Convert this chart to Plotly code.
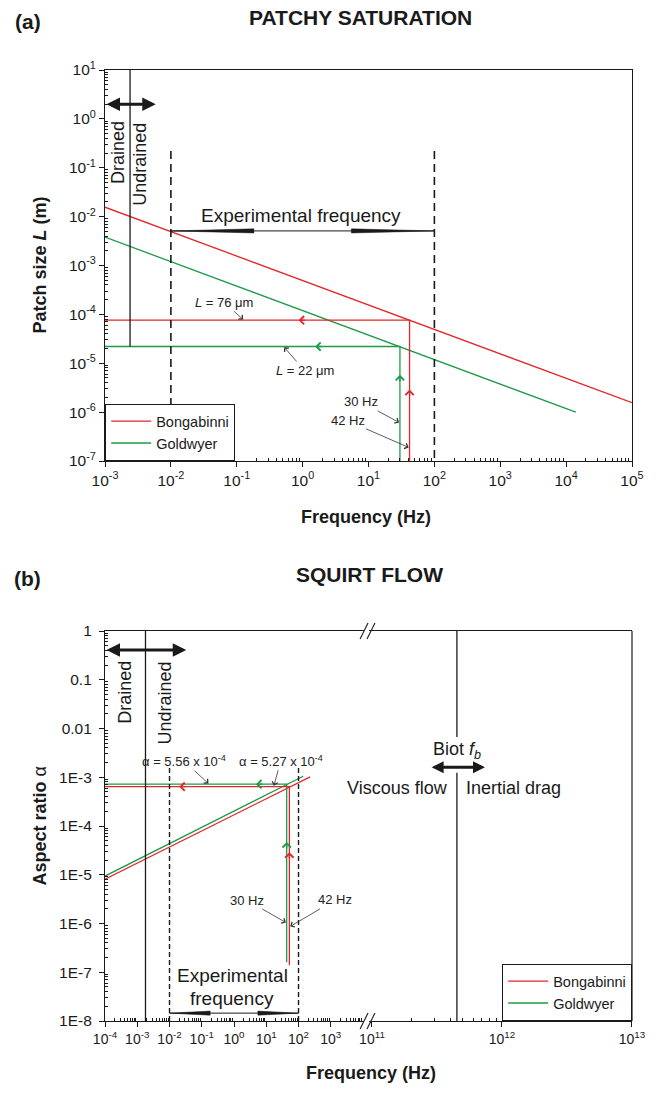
import math
import plotly.graph_objects as go

# ---------------- Panel (a): patchy saturation ----------------
a_bong_freq = [1e-3, 1e5]          # Bongabinni L-f line
a_bong_L = [1.56e-2, 1.56e-6]
a_gold_freq = [1e-3, 1.4e4]        # Goldwyer L-f line
a_gold_L = [3.8e-3, 1.0e-6]
a_meas_freq = [42, 30]             # Bongabinni, Goldwyer measured frequency
a_patch_L = [76e-6, 22e-6]         # resulting patch size
a_fmin, a_Lmin, a_Lmax = 1e-3, 1e-7, 10
a_drain_freq = 2.4e-3
a_exp_freq = [1e-2, 1e2]
a_exp_top_L = 0.22
a_exp_arrow_L = 5.1e-3
a_drain_arrow_freq = [1e-3, 5.9e-3]
a_drain_arrow_L = 2.0
a_chev_left_freq = [0.87, 1.55]     # "<" markers (Bong, Gold)
a_chev_up_L = [2.9e-6, 5.8e-6]     # "^" markers (Bong, Gold)

# ---------------- Panel (b): squirt flow ----------------
b_bong_freq = [1e-4, 2.3e2]
b_bong_alpha = [8.1e-6, 1.02e-3]
b_gold_freq = [1e-4, 1.4e2]
b_gold_alpha = [9.4e-6, 1.05e-3]
b_meas_freq = [52, 43]             # Bongabinni, Goldwyer
b_meas_alpha = [6.4e-4, 7.2e-4]
b_vert_bottom = [1.4e-7, 1.6e-7]
b_fmin = 1e-4
b_alpha_min, b_alpha_max = 1e-8, 1
b_drain_freq = 1.8e-3
b_exp_freq = [1e-2, 1e2]
b_exp_top_alpha = 1.55e-3
b_exp_arrow_alpha = 1.45e-8
b_drain_arrow_freq = [1e-4, 3.3e-2]
b_drain_arrow_alpha = 0.41
b_biot_freq = 4.5e11
b_biot_gap = [1.23e-3, 6.7e-3]
b_biot_arrow_freq = [2.8e11, 7.4e11]
b_biot_arrow_alpha = 1.6e-3
b_chev_left_freq = [0.02, 4.8]
b_chev_up_alpha = [2.9e-5, 4.7e-5]

# tick labels
a_x_exps = [-3, -2, -1, 0, 1, 2, 3, 4, 5]
a_y_exps = [-7, -6, -5, -4, -3, -2, -1, 0, 1]
b_xl_exps = [-4, -3, -2, -1, 0, 1, 2, 3]
b_xr_exps = [11, 12, 13]
b_y_vals = [1e-8, 1e-7, 1e-6, 1e-5, 1e-4, 1e-3, 1e-2, 1e-1, 1]
b_y_text = ["1E-8", "1E-7", "1E-6", "1E-5", "1E-4", "1E-3", "0.01", "0.1", "1"]

RED = "#E3262B"
GREEN = "#1F9A48"
BLACK = "#1a1a1a"
FONT = "Liberation Sans, Arial, sans-serif"

# plot geometry (pixels)
W, H = 658, 1095
PL, PR, PT, PB = 105, 636, 70, 1021


def px_x(px):
    return (px - PL) / (PR - PL)


def px_y(py):
    return (PB - py) / (PB - PT)


A_DOM = [px_y(461), 1]
B_DOM = [0, px_y(631)]
X2_DOM = [0, px_x(366)]
X3_DOM = [px_x(371), 1]

fig = go.Figure()


def line(x, y, xa, ya, color, width=1.3, dash=None, name=None, legend=None, show=False):
    fig.add_trace(go.Scatter(x=x, y=y, xaxis=xa, yaxis=ya, mode="lines",
                             line=dict(color=color, width=width, dash=dash),
                             name=name, legend=legend, showlegend=show, hoverinfo="skip"))


def wedge(tip, base, yc, xa, ya, half=0.042):
    k = 10 ** half
    fig.add_trace(go.Scatter(x=[tip, base, base, tip], y=[yc, yc * k, yc / k, yc],
                             xaxis=xa, yaxis=ya, mode="lines", fill="toself",
                             fillcolor=BLACK, line=dict(color=BLACK, width=0.5),
                             showlegend=False, hoverinfo="skip"))


# ---- panel (a) traces ----
line(a_bong_freq, a_bong_L, "x", "y", RED, name="Bongabinni", legend="legend", show=True)
line(a_gold_freq, a_gold_L, "x", "y", GREEN, name="Goldwyer", legend="legend", show=True)
line([a_fmin, a_meas_freq[0], a_meas_freq[0]], [a_patch_L[0], a_patch_L[0], a_Lmin], "x", "y", RED)
line([a_fmin, a_meas_freq[1], a_meas_freq[1]], [a_patch_L[1], a_patch_L[1], a_Lmin], "x", "y", GREEN)
line([a_drain_freq, a_drain_freq], [a_Lmax, a_patch_L[1]], "x", "y", BLACK, 1.3)
for f in a_exp_freq:
    line([f, f], [a_exp_top_L, a_Lmin], "x", "y", BLACK, 1.6, dash="8px,5px")
line(a_exp_freq, [a_exp_arrow_L, a_exp_arrow_L], "x", "y", BLACK, 1.0)
wedge(a_exp_freq[0], a_exp_freq[0] * 10 ** 1.26, a_exp_arrow_L, "x", "y")
wedge(a_exp_freq[1], a_exp_freq[1] / 10 ** 1.26, a_exp_arrow_L, "x", "y")

# ---- panel (b) traces ----
line(b_bong_freq, b_bong_alpha, "x2", "y2", RED, name="Bongabinni", legend="legend2", show=True)
line(b_gold_freq, b_gold_alpha, "x2", "y2", GREEN, name="Goldwyer", legend="legend2", show=True)
line([b_fmin, b_meas_freq[1], b_meas_freq[1]], [b_meas_alpha[1], b_meas_alpha[1], b_vert_bottom[1]], "x2", "y2", GREEN)
line([b_fmin, b_meas_freq[0], b_meas_freq[0]], [b_meas_alpha[0], b_meas_alpha[0], b_vert_bottom[0]], "x2", "y2", RED)
line([b_drain_freq, b_drain_freq], [b_alpha_min, b_alpha_max], "x2", "y2", BLACK, 1.3)
for f in b_exp_freq:
    line([f, f], [b_exp_top_alpha, b_alpha_min], "x2", "y2", BLACK, 1.4, dash="5px,3px")
line(b_exp_freq, [b_exp_arrow_alpha, b_exp_arrow_alpha], "x2", "y2", BLACK, 1.0)
wedge(b_exp_freq[0], b_exp_freq[0] * 10 ** 1.26, b_exp_arrow_alpha, "x2", "y2")
wedge(b_exp_freq[1], b_exp_freq[1] / 10 ** 1.26, b_exp_arrow_alpha, "x2", "y2")
line([b_biot_freq, b_biot_freq], [b_alpha_min, b_biot_gap[0]], "x3", "y2", BLACK, 1.3)
line([b_biot_freq, b_biot_freq], [b_biot_gap[1], b_alpha_max], "x3", "y2", BLACK, 1.3)

L10 = math.log10
ann = []


def text(s, px, py, size=18, bold=False, angle=0, xanchor="center"):
    if bold:
        s = "<b>" + s + "</b>"
    ann.append(dict(text=s, x=px_x(px), y=px_y(py), xref="paper", yref="paper",
                    showarrow=False, xanchor=xanchor, yanchor="middle", textangle=angle,
                    font=dict(size=size, color=BLACK, family=FONT)))


def callout(s, fx, fy, xr, yr, axp, ayp):
    ann.append(dict(text=s, x=L10(fx), y=L10(fy), xref=xr, yref=yr, ax=axp, ay=ayp,
                    showarrow=True, arrowhead=4, arrowsize=1.4, arrowwidth=0.8,
                    arrowcolor="#333", standoff=1, font=dict(size=13, color="#222", family=FONT)))


def chevron(fx, fy, xr, yr, color, direction):
    axp, ayp = (8, 0) if direction == "left" else (0, 8)
    ann.append(dict(text="", x=L10(fx), y=L10(fy), xref=xr, yref=yr, ax=axp, ay=ayp,
                    showarrow=True, arrowhead=4, arrowsize=1.25, arrowwidth=1.3,
                    arrowcolor=color, standoff=0))


def dbl_arrow(x0, x1, yv, xr, yr, size=0.9):
    ann.append(dict(text="", x=L10(x1), y=L10(yv), ax=L10(x0), ay=L10(yv), xref=xr, yref=yr,
                    axref=xr, ayref=yr, showarrow=True, arrowhead=2, arrowside="end+start",
                    arrowsize=size, arrowwidth=3, arrowcolor=BLACK, standoff=0, startstandoff=0))


# titles
text("(a)", 27, 21, size=21, bold=True)
text("PATCHY SATURATION", 248, 18, size=21, bold=True, xanchor="left")
text("(b)", 27, 578, size=21, bold=True)
text("SQUIRT FLOW", 295, 574, size=21, bold=True, xanchor="left")
# axis titles
text("Frequency (Hz)", 368, 517, size=18, bold=True)
text("Frequency (Hz)", 373, 1073, size=18, bold=True)
text("Patch size <i>L</i> (m)", 40, 265, size=18, bold=True, angle=-90)
text("Aspect ratio <span style='font-weight:normal'>α</span>", 40, 826, size=18, bold=True, angle=-90)
# panel (a) labels
text("Drained", 118, 152, angle=-90)
text("Undrained", 140, 164, angle=-90)
text("Experimental frequency", 302, 215, size=19)
# panel (b) labels
text("Drained", 125, 692, angle=-90)
text("Undrained", 165, 703, angle=-90)
text("Experimental", 233, 975, size=19)
text("frequency", 233, 998, size=19)
text("Biot <i>f<sub>b</sub></i>", 460, 750, size=18)
text("Viscous flow", 453, 788, size=18, xanchor="right")
text("Inertial drag", 467, 788, size=18, xanchor="left")

# callouts panel (a)
callout("<i>L</i> = 76 μm", 10 ** -0.892, a_patch_L[0], "x", "y", -20, -18)
callout("<i>L</i> = 22 μm", 10 ** -0.289, a_patch_L[1], "x", "y", 21, 24)
callout("30 Hz", a_meas_freq[1], 10 ** -6.22, "x", "y", -39, -21)
callout("42 Hz", a_meas_freq[0], 10 ** -6.73, "x", "y", -62, -27)
# callouts panel (b)
callout("30 Hz", b_meas_freq[1], 10 ** -5.99, "x2", "y2", -40, -23)
callout("42 Hz", b_meas_freq[0], 10 ** -6.07, "x2", "y2", 46, -27)
callout("α = 5.56 x 10<sup>-4</sup>", 10 ** -0.77, b_meas_alpha[1], "x2", "y2", -25, -23)
callout("α = 5.27 x 10<sup>-4</sup>", 10 ** 1.23, b_meas_alpha[0], "x2", "y2", 7, -26)

# chevrons
chevron(a_chev_left_freq[0], a_patch_L[0], "x", "y", RED, "left")
chevron(a_chev_left_freq[1], a_patch_L[1], "x", "y", GREEN, "left")
chevron(a_meas_freq[0], a_chev_up_L[0], "x", "y", RED, "up")
chevron(a_meas_freq[1], a_chev_up_L[1], "x", "y", GREEN, "up")
chevron(b_chev_left_freq[0], b_meas_alpha[0], "x2", "y2", RED, "left")
chevron(b_chev_left_freq[1], b_meas_alpha[1], "x2", "y2", GREEN, "left")
chevron(b_meas_freq[0], b_chev_up_alpha[0], "x2", "y2", RED, "up")
chevron(b_meas_freq[1], b_chev_up_alpha[1], "x2", "y2", GREEN, "up")

# thick double arrows
dbl_arrow(a_drain_arrow_freq[0], a_drain_arrow_freq[1], a_drain_arrow_L, "x", "y")
dbl_arrow(b_drain_arrow_freq[0], b_drain_arrow_freq[1], b_drain_arrow_alpha, "x2", "y2")
dbl_arrow(b_biot_arrow_freq[0], b_biot_arrow_freq[1], b_biot_arrow_alpha, "x3", "y2", size=0.8)


def minor_vals(exps):
    return [m * 10 ** e for e in exps for m in range(2, 10)]


def axis(rng, dom, tickvals, ticktext, minor, size=15.5, **kw):
    d = dict(type="log", range=rng, domain=dom, showline=True, linecolor=BLACK, linewidth=1.2,
             ticks="outside", ticklen=5, tickwidth=1.2, tickcolor=BLACK, showgrid=False,
             zeroline=False, tickmode="array", tickvals=tickvals, ticktext=ticktext,
             tickfont=dict(size=size, color=BLACK, family=FONT),
             minor=dict(ticks="inside", ticklen=3, tickwidth=1, tickcolor=BLACK, showgrid=False,
                        tickmode="array", tickvals=minor))
    d.update(kw)
    return d


def pw(exps):
    return ["10<sup>%d</sup>" % e for e in exps]


legend_style = dict(bgcolor="white", bordercolor=BLACK, borderwidth=1.2,
                    font=dict(size=14.5, family=FONT, color=BLACK), tracegroupgap=0, itemwidth=40)

fig.update_layout(
    width=W, height=H, margin=dict(l=PL, r=W - PR, t=PT, b=H - PB),
    paper_bgcolor="white", plot_bgcolor="white",
    font=dict(family=FONT, size=15, color=BLACK),
    xaxis=axis([-3, 5], [0, 1], [10 ** e for e in a_x_exps], pw(a_x_exps),
               minor_vals(a_x_exps[:-1]), anchor="y", mirror=True),
    yaxis=axis([-7, 1], A_DOM, [10 ** e for e in a_y_exps], pw(a_y_exps),
               minor_vals(a_y_exps[:-1]), anchor="x", mirror=True),
    xaxis2=axis([-4, 4.031], X2_DOM, [10 ** e for e in b_xl_exps], pw(b_xl_exps),
                minor_vals(b_xl_exps), size=14, anchor="y2", mirror=True),
    xaxis3=axis([10.977, 13], X3_DOM, [10 ** e for e in b_xr_exps], pw(b_xr_exps),
                minor_vals(b_xr_exps[:-1]), size=14, anchor="y2", mirror=True),
    yaxis2=axis([-8, 0], B_DOM, b_y_vals, b_y_text, minor_vals(range(-8, 0)),
                anchor="x2", mirror=False, ticklabelstandoff=4),
    legend=dict(x=0, y=A_DOM[0], xanchor="left", yanchor="bottom", **legend_style),
    legend2=dict(x=1, y=0, xanchor="right", yanchor="bottom", **legend_style),
    annotations=ann,
)

# right border of panel (b) and axis-break marks
shapes = [dict(type="line", xref="paper", yref="paper", x0=1, x1=1, y0=B_DOM[0], y1=B_DOM[1],
               line=dict(color=BLACK, width=1.2))]
for ypx in (631, 1021):
    for xpx in (362, 369):
        shapes.append(dict(type="line", xref="paper", yref="paper",
                           x0=px_x(xpx), y0=px_y(ypx + 8), x1=px_x(xpx + 8), y1=px_y(ypx - 8),
                           line=dict(color=BLACK, width=1.1)))
fig.update_layout(shapes=shapes)

fig.write_html("out.html")
